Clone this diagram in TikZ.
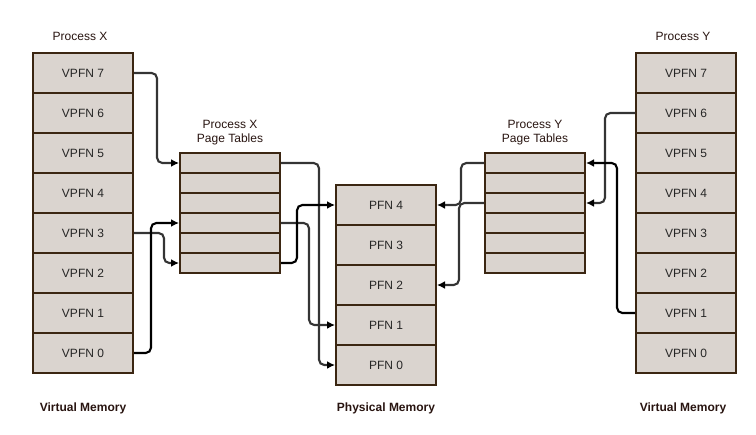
\documentclass[tikz,border=0pt]{standalone}
\usepackage{fontspec}
\setmainfont{Liberation Sans}
\usetikzlibrary{arrows.meta,positioning}
\definecolor{cellfill}{RGB}{218,212,207}
\definecolor{celledge}{RGB}{59,38,18}
\definecolor{linkgrey}{RGB}{52,52,52}
\definecolor{labeltext}{RGB}{40,20,16}

\begin{document}
\begin{tikzpicture}[x=0.75pt,y=-0.75pt,
		cell/.style={rectangle,draw=celledge,fill=cellfill,line width=1.5pt,
			minimum width=75pt,minimum height=30pt,inner sep=0pt,
			text=black!85,font=\fontsize{9}{10.5}\selectfont},
		entry/.style={cell,minimum height=15pt},
		title/.style={align=center,text=labeltext,font=\fontsize{9}{10.5}\selectfont},
		caption/.style={text=labeltext,font=\fontsize{9}{10.5}\selectfont\bfseries},
		link/.style={line width=1.6pt,draw=linkgrey,rounded corners=4pt,
			-{Latex[length=6pt,width=6pt,color=black]}},
		dark link/.style={link,draw=black}
	]
	\useasboundingbox (0,0) rectangle (756,435);
	% virtual memory of both processes
	\foreach \i in {0,...,7} {
		\node[cell] (x\i) at (83,353-40*\i) {VPFN \i};
		\node[cell] (y\i) at (686,353-40*\i) {VPFN \i};
	}
	% page tables
	\foreach \i in {0,...,5} {
		\node[entry] (px\i) at (230,163+20*\i) {};
		\node[entry] (py\i) at (535,163+20*\i) {};
	}
	% physical memory
	\foreach \i in {0,...,4}
		\node[cell] (pfn\i) at (386,365-40*\i) {PFN \i};

	\node[title] (xname) at (80,36) {Process X};
	\node[title] (yname) at (683,36) {Process Y};
	\node[title] (xtables) at (230,133) {Process X\\Page Tables};
	\node[title] (ytables) at (535,133) {Process Y\\Page Tables};
	\node[caption] (xcaption) at (83,408) {Virtual Memory};
	\node[caption] (pcaption) at (386,408) {Physical Memory};
	\node[caption] (ycaption) at (683,408) {Virtual Memory};

	% process X
	\draw[link] (x7.east) -- ++(23,0) |- (px0.west);
	\draw[link] (x3.east) -- ++(30,0) |- (px5.west);
	\draw[dark link] (x0.east) -- ++(17,0) |- (px3.west);
	\draw[link] (px0.east) -- ++(38,0) |- (pfn0.west);
	\draw[link] (px3.east) -- ++(28,0) |- (pfn1.west);
	\draw[dark link] (px5.east) -- ++(16,0) |- (pfn4.west);
	% process Y
	\draw[link] (py0.west) -- ++(-23,0) |- (pfn4.east);
	\draw[link] (py2.west) -- ++(-25,0) |- (pfn2.east);
	\draw[link] (y6.west) -- ++(-30,0) |- (py2.east);
	\draw[dark link] (y1.west) -- ++(-18,0) |- (py0.east);
\end{tikzpicture}
\end{document}
